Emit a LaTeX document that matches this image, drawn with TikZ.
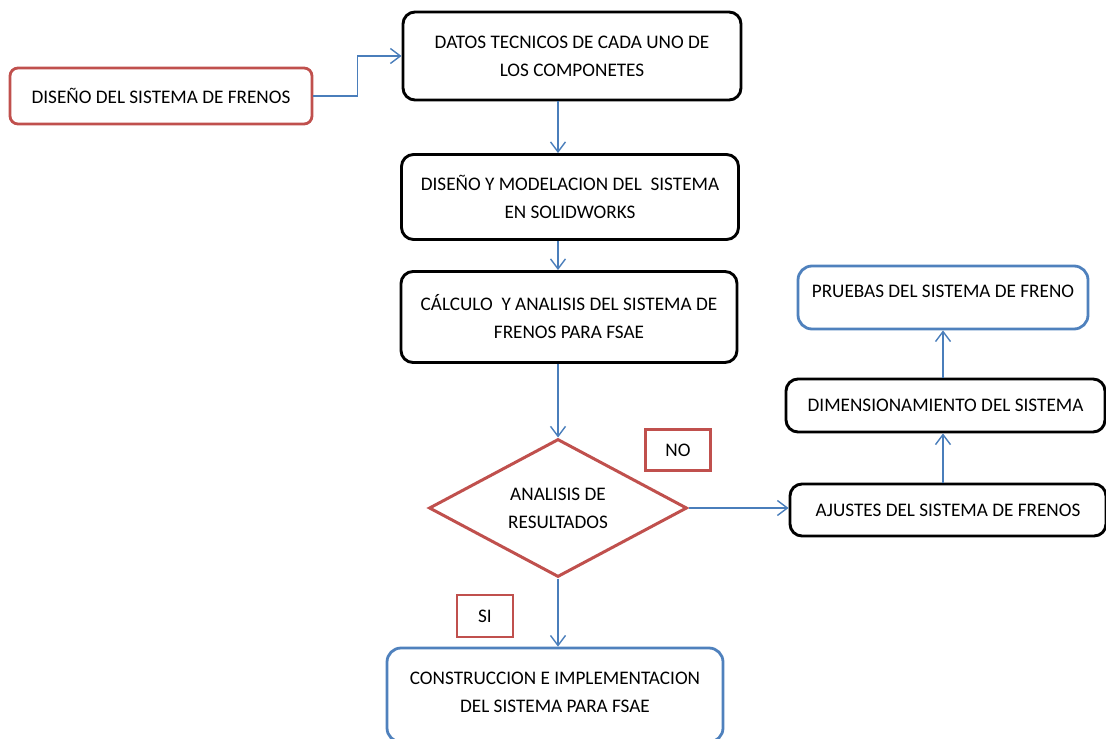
\documentclass[tikz,border=0pt]{standalone}
\usepackage{fontspec}
\setmainfont{Carlito}
\usepackage{tikz}
\usetikzlibrary{arrows.meta,calc,positioning,shapes.geometric}
\usepackage{xcolor}
\definecolor{brickred}{HTML}{C0504D}
\definecolor{officeblue}{HTML}{4F81BD}
\definecolor{arrowblue}{HTML}{4A7EBB}

\begin{document}
\begin{tikzpicture}[x=0.5pt, y=-0.5pt,
  font=\fontsize{9.6}{14}\selectfont,
  stepbox/.style={draw=black, line width=1.45pt, rounded corners=6pt, fill=white,
    align=center, inner sep=0pt},
  redbox/.style={draw=brickred, line width=1.4pt, rounded corners=4pt, fill=white,
    align=center, inner sep=0pt},
  bluebox/.style={draw=officeblue, line width=1.4pt, rounded corners=7pt, fill=white,
    align=center, inner sep=0pt},
  tagbox/.style={draw=brickred, line width=1.4pt, fill=white, align=center, inner sep=0pt},
  decision/.style={diamond, draw=brickred, line width=1.5pt, fill=white, align=center,
    inner sep=0pt, aspect=1.87},
  arrow/.style={-{Straight Barb[length=5pt, width=7.5pt]}, line width=0.7pt, draw=arrowblue}
]
\useasboundingbox (0,0) rectangle (1106,738);
\node[redbox, minimum width=151pt, minimum height=28pt] (izq) at (161,96) {DISEÑO DEL SISTEMA DE FRENOS};
\node[stepbox, minimum width=169pt, minimum height=44pt] (datos) at (572,56) {DATOS TECNICOS DE CADA UNO DE\\LOS COMPONETES};
\node[stepbox, minimum width=168.5pt, minimum height=42.5pt] (modelo) at (570,197) {DISEÑO Y MODELACION DEL\ \ SISTEMA\\EN SOLIDWORKS};
\node[stepbox, minimum width=168pt, minimum height=45.5pt] (calculo) at (569,317) {CÁLCULO\ \ Y ANALISIS DEL SISTEMA DE\\FRENOS PARA FSAE};
\node[decision, minimum width=129pt, minimum height=69pt] (analisis) at (558,508) {ANALISIS DE\\RESULTADOS};
\node[tagbox, minimum width=32.5pt, minimum height=20.5pt] (no) at (678,450) {NO};
\node[tagbox, minimum width=28pt, minimum height=21pt] (si) at (485,616) {SI};
\node[bluebox, minimum width=168pt, minimum height=47pt, text depth=3pt] (constr) at (555,695) {CONSTRUCCION E IMPLEMENTACION\\DEL SISTEMA PARA FSAE};
\node[stepbox, minimum width=158pt, minimum height=26pt] (ajustes) at (948,510) {AJUSTES DEL SISTEMA DE FRENOS};
\node[stepbox, minimum width=159.5pt, minimum height=26.5pt] (dimens) at (945.5,405.5) {DIMENSIONAMIENTO DEL SISTEMA};
\node[bluebox, minimum width=145pt, minimum height=31.5pt, text depth=6.5pt] (pruebas) at (943,297.5) {PRUEBAS DEL SISTEMA DE FRENO};
\draw[arrow] (izq.east) -- ++(44,0) |- (datos.west);
\draw[arrow] (datos.south -| analisis.north) -- (modelo.north -| analisis.north);
\draw[arrow] (modelo.south -| analisis.north) -- (calculo.north -| analisis.north);
\draw[arrow] (calculo.south -| analisis.north) -- (analisis.north);
\draw[arrow] (analisis.south) -- (constr.north -| analisis.south);
\draw[arrow] (analisis.east) -- (analisis.east -| ajustes.west);
\draw[arrow] (ajustes.north -| pruebas.south) -- (dimens.south -| pruebas.south);
\draw[arrow] (dimens.north -| pruebas.south) -- (pruebas.south);
\end{tikzpicture}
\end{document}
